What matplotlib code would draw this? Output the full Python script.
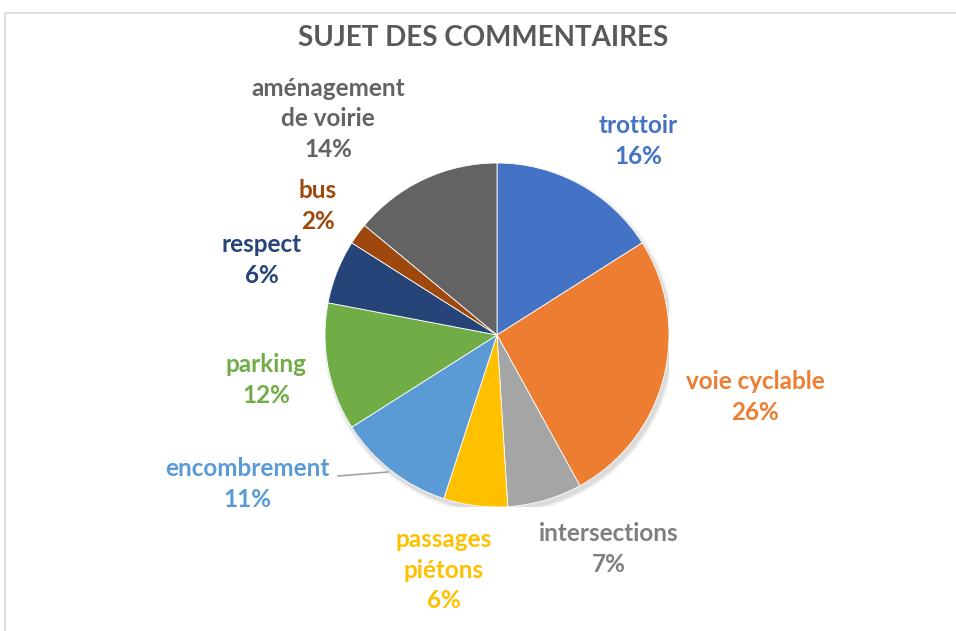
import matplotlib
matplotlib.use("Agg")
import matplotlib.pyplot as plt
from matplotlib.patches import Rectangle, Circle

categories = ["trottoir", "voie cyclable", "intersections", "passages\npiétons",
              "encombrement", "parking", "respect", "bus", "aménagement\nde voirie"]
shares = [16, 26, 7, 6, 11, 12, 6, 2, 14]
colors = ["#4472C4", "#ED7D31", "#A5A5A5", "#FFC000", "#5B9BD5",
          "#70AD47", "#264478", "#9E480E", "#636363"]
text_colors = ["#4472C4", "#ED7D31", "#7F7F7F", "#FFC000", "#5B9BD5",
               "#70AD47", "#264478", "#9E480E", "#636363"]
title = "SUJET DES COMMENTAIRES"

# label centres in figure pixels
label_pos = [(638, 141), (755, 397), (609, 549), (444, 570), (247, 484),
             (266, 380), (262, 260), (318, 206), (328, 119)]

W, H = 956, 631
fig = plt.figure(figsize=(W / 100, H / 100), dpi=100)
plt.rcParams["font.family"] = ["Lato", "DejaVu Sans"]

# chart frame
fig.patches.append(Rectangle((5 / W, -0.1), 1.0, (H - 13) / H + 0.1,
                             transform=fig.transFigure, fill=False,
                             edgecolor="#D9D9D9", linewidth=1.2))

cx, cy, r = 497, 335, 172
ax = fig.add_axes([(cx - r) / W, (H - cy - r) / H, 2 * r / W, 2 * r / H])
ax.set_aspect("equal")
ax.axis("off")

# soft shadow
for i, a in enumerate([0.05, 0.04, 0.03, 0.02]):
    ax.add_patch(Circle((0.012, -0.02), 1.0 + 0.006 * (i + 1), color="black",
                        alpha=a, linewidth=0, zorder=0))

ax.pie(shares, colors=colors, startangle=90, counterclock=False, radius=1.0,
       wedgeprops=dict(edgecolor="white", linewidth=0.6, zorder=1))
ax.set_xlim(-1, 1)
ax.set_ylim(-1, 1)

for cat, val, col, (px, py) in zip(categories, shares, text_colors, label_pos):
    fig.text(px / W, 1 - py / H, f"{cat}\n{val}%", color=col, fontsize=17.5,
             fontweight="bold", ha="center", va="center", linespacing=1.38)

# leader line for encombrement
fig.add_artist(plt.Line2D([338 / W, 388 / W], [1 - 476 / H, 1 - 472 / H],
                          transform=fig.transFigure, color="#A6A6A6", linewidth=1.2))

fig.text(483 / W, 1 - 38 / H, title, color="#595959", fontsize=20,
         fontweight="bold", ha="center", va="center")

fig.savefig("out.png", dpi=100, facecolor="white")
